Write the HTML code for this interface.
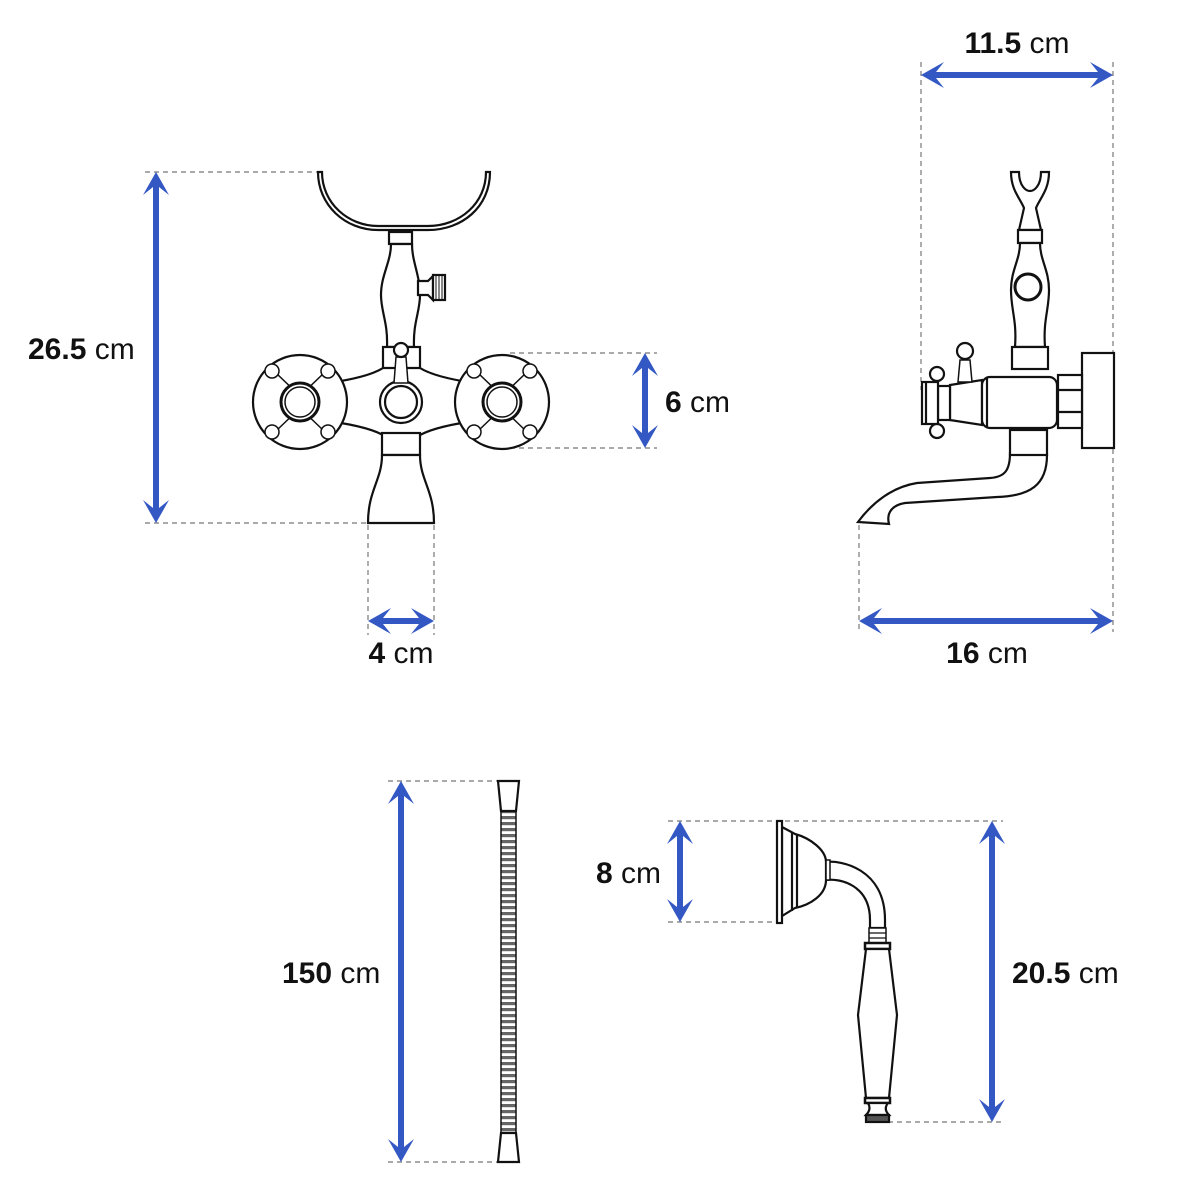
<!DOCTYPE html>
<html><head><meta charset="utf-8"><style>
html,body{margin:0;padding:0;background:#fff}
svg{display:block}
text{font-family:"Liberation Sans",sans-serif;font-size:30px;fill:#111}
.b{font-weight:bold}
</style></head><body>
<svg width="1200" height="1200" viewBox="0 0 1200 1200" xmlns="http://www.w3.org/2000/svg">
<defs>
<pattern id="rib" x="0" y="0" width="20" height="6" patternUnits="userSpaceOnUse">
<rect width="20" height="6" fill="#fff"/><rect y="0" width="20" height="3.2" fill="#666"/>
</pattern>
</defs>
<g stroke="#777" stroke-width="1.2" stroke-dasharray="5,4" fill="none">
<line x1="145" y1="172" x2="318" y2="172"/><line x1="145" y1="523" x2="367" y2="523"/>
<line x1="510" y1="353" x2="657" y2="353"/><line x1="510" y1="448" x2="657" y2="448"/>
<line x1="368" y1="525" x2="368" y2="635"/><line x1="434" y1="525" x2="434" y2="635"/>
<line x1="921" y1="62" x2="921" y2="390"/><line x1="1113" y1="62" x2="1113" y2="632"/>
<line x1="859" y1="525" x2="859" y2="632"/>
<line x1="388" y1="781" x2="497" y2="781"/><line x1="388" y1="1162" x2="497" y2="1162"/>
<line x1="668" y1="821" x2="1003" y2="821"/><line x1="668" y1="922" x2="778" y2="922"/>
<line x1="870" y1="1122" x2="1003" y2="1122"/>
</g>
<g fill="#3358c4">
<polygon points="156,172 169,195 159,187 159,508 169,500 156,523 143,500 153,508 153,187 143,195"/>
<polygon points="645,353 658,376 648,368 648,433 658,425 645,448 632,425 642,433 642,368 632,376"/>
<polygon points="401,781 414,804 404,796 404,1147 414,1139 401,1162 388,1139 398,1147 398,796 388,804"/>
<polygon points="680,821 693,844 683,836 683,907 693,899 680,922 667,899 677,907 677,836 667,844"/>
<polygon points="992,821 1005,844 995,836 995,1107 1005,1099 992,1122 979,1099 989,1107 989,836 979,844"/>
<polygon points="368,621 391,608 383,618 419,618 411,608 434,621 411,634 419,624 383,624 391,634"/>
<polygon points="921,75 944,62 936,72 1098,72 1090,62 1113,75 1090,88 1098,78 936,78 944,88"/>
<polygon points="859,621 882,608 874,618 1098,618 1090,608 1113,621 1090,634 1098,624 874,624 882,634"/>
</g>
<text x="28" y="359"><tspan class="b">26.5</tspan> cm</text>
<text x="665" y="412"><tspan class="b">6</tspan> cm</text>
<text x="401" y="663" text-anchor="middle"><tspan class="b">4</tspan> cm</text>
<text x="1017" y="53" text-anchor="middle"><tspan class="b">11.5</tspan> cm</text>
<text x="987" y="663" text-anchor="middle"><tspan class="b">16</tspan> cm</text>
<text x="282" y="983"><tspan class="b">150</tspan> cm</text>
<text x="596" y="883"><tspan class="b">8</tspan> cm</text>
<text x="1012" y="983"><tspan class="b">20.5</tspan> cm</text>

<!-- front faucet -->
<g fill="#fff" stroke="#111" stroke-width="2.2">
<path d="M318,172 C318,205 345,230 378,230 L428,230 C462,230 490,207 490,172 L486,172 C486,203 460,226 428,226 L378,226 C348,226 322,203 322,172 Z"/>
<rect x="389" y="232" width="23" height="12"/>
<path d="M391,244 L412,244 C412,262 420,275 420,295 C420,312 413,322 414,347 L387,347 C388,322 381,312 381,295 C381,275 391,262 391,244 Z"/>
<path d="M418,281 L428,281 L433,276 L433,300 L428,295 L418,295 Z"/>
<rect x="433" y="275" width="12" height="25"/>
<line x1="436" y1="276" x2="436" y2="299" stroke-width="1"/><line x1="439" y1="276" x2="439" y2="299" stroke-width="1"/><line x1="442" y1="276" x2="442" y2="299" stroke-width="1"/>
<rect x="383" y="347" width="37" height="22"/>
<path d="M320,384 C345,381 370,376 383,368 L420,368 C433,376 458,381 482,384 L482,420 C458,423 433,428 420,435 L383,435 C370,428 345,423 320,420 Z"/>
<circle cx="300" cy="402" r="47"/>
<circle cx="502" cy="402" r="47"/>
<g stroke-width="1.5">
<path d="M276,373 L300,396 L324,373 M276,431 L300,408 L324,431"/>
<path d="M478,373 L502,396 L526,373 M478,431 L502,408 L526,431"/>
<circle cx="272" cy="371" r="7"/><circle cx="328" cy="371" r="7"/><circle cx="272" cy="432" r="7"/><circle cx="328" cy="432" r="7"/>
<circle cx="474" cy="371" r="7"/><circle cx="530" cy="371" r="7"/><circle cx="474" cy="432" r="7"/><circle cx="530" cy="432" r="7"/>
</g>
<circle cx="300" cy="402" r="19" stroke-width="3"/><circle cx="300" cy="402" r="15" stroke-width="1.5"/>
<circle cx="502" cy="402" r="19" stroke-width="3"/><circle cx="502" cy="402" r="15" stroke-width="1.5"/>
<circle cx="401" cy="402" r="21"/><circle cx="401" cy="402" r="16"/>
<path d="M396,357 L406,357 L408,383 L394,383 Z" stroke-width="1.5"/>
<circle cx="401" cy="350" r="7"/>
<rect x="382" y="433" width="38" height="22"/>
<path d="M382,455 L420,455 C420,480 434,490 434,523 L368,523 C368,490 382,480 382,455 Z"/>
</g>

<!-- side faucet -->
<g fill="#fff" stroke="#111" stroke-width="2.2">
<path d="M1011,172 L1019,172 C1019,186 1026,191 1030,191 C1034,191 1041,186 1041,172 L1049,172 C1049,190 1040,198 1036,208 L1041,230 L1019,230 L1024,208 C1020,198 1011,190 1011,172 Z"/>
<rect x="1018" y="230" width="24" height="13"/>
<path d="M1020,243 L1040,243 C1040,260 1049,270 1049,290 C1049,310 1043,320 1045,347 L1015,347 C1017,320 1011,310 1011,290 C1011,270 1020,260 1020,243 Z"/>
<circle cx="1028" cy="287" r="13" stroke-width="3"/>
<rect x="1012" y="347" width="36" height="22"/>
<rect x="1082" y="353" width="32" height="95"/>
<rect x="1058" y="375" width="24" height="53"/>
<line x1="1058" y1="390" x2="1082" y2="390"/><line x1="1058" y1="412" x2="1082" y2="412"/>
<path d="M1010,453 C1010,470 1005,477 990,478 L917,483 C892,487 872,503 858,522 L889,524 C886,512 893,505 905,503 L997,497 C1030,496 1047,485 1047,455 Z"/>
<rect x="1010" y="430" width="37" height="25"/>
<path d="M950,385 L982,380 L982,425 L950,420 Z"/>
<rect x="982" y="377" width="75" height="51" rx="8"/>
<line x1="987" y1="378" x2="987" y2="427"/>
<rect x="938" y="386" width="12" height="34"/>
<rect x="922" y="382" width="16" height="42"/>
<line x1="926" y1="383" x2="926" y2="423"/>
<circle cx="937" cy="374" r="7"/><circle cx="937" cy="431" r="7"/>
<path d="M960,360 L970,360 L972,382 L958,382 Z" stroke-width="1.5"/>
<circle cx="965" cy="351" r="8"/>
</g>

<!-- hose -->
<g stroke="#111" stroke-width="2.2">
<rect x="501" y="811" width="15" height="322" fill="url(#rib)" stroke-width="1.5"/>
<path d="M498,781 L519,781 L516,811 L501,811 Z" fill="#fff"/>
<path d="M501,1133 L516,1133 L519,1162 L498,1162 Z" fill="#fff"/>
</g>

<!-- hand shower -->
<g fill="#fff" stroke="#111" stroke-width="2.2">
<path d="M826,862 C840,860 885,868 885,920 L885,928 L870,928 L870,920 C870,885 840,878 826,880 Z"/>
<path d="M782,827 L795,834 C810,838 826,850 826,862 L826,880 C826,895 810,905 795,908 L782,916 Z"/>
<line x1="792" y1="832" x2="792" y2="911"/><line x1="797" y1="835" x2="797" y2="908"/>
<rect x="777" y="821" width="5" height="102"/>
<rect x="826" y="860" width="4" height="20" stroke-width="1.5"/>
<rect x="869" y="928" width="17" height="15" stroke-width="1.5"/>
<line x1="869" y1="933" x2="886" y2="933" stroke-width="1.2"/><line x1="869" y1="938" x2="886" y2="938" stroke-width="1.2"/>
<rect x="865" y="943" width="25" height="6" stroke-width="2.5"/>
<path d="M866,949 L889,949 L897,1015 L889,1098 L866,1098 L858,1015 Z"/>
<rect x="865" y="1098" width="25" height="5" stroke-width="2.5"/>
<path d="M868,1103 L888,1103 C884,1108 886,1112 889,1115 L866,1115 C869,1112 871,1108 868,1103 Z"/>
<rect x="866" y="1115" width="23" height="7" fill="#555"/>
</g>
</svg>
</body></html>
